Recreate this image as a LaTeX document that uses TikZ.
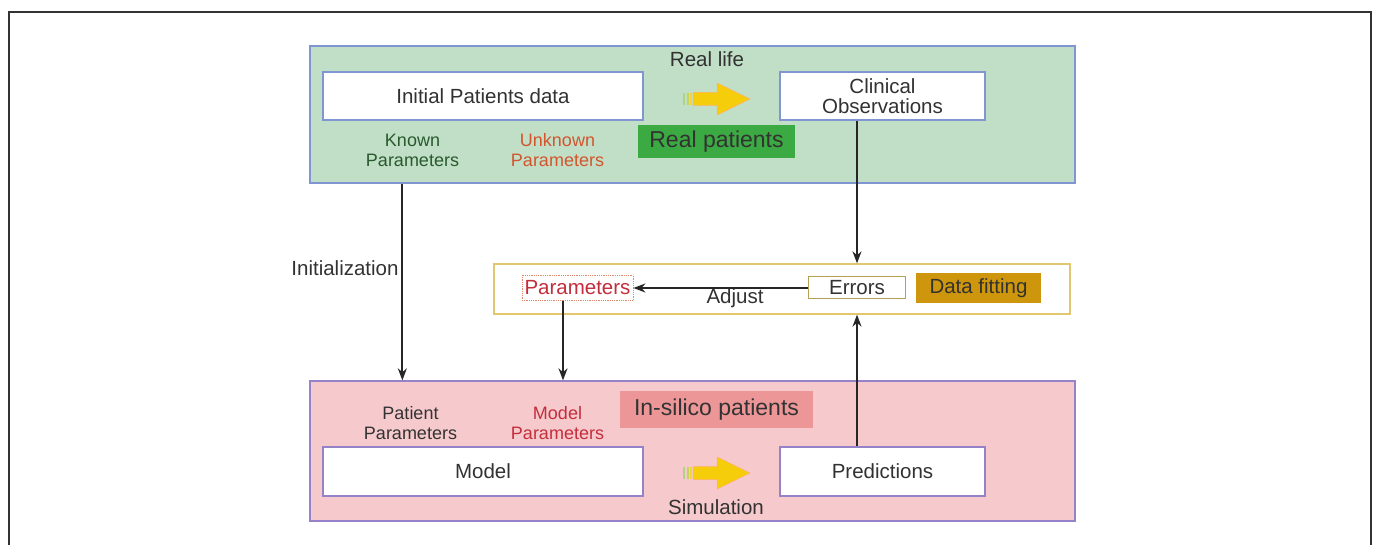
\documentclass[tikz,border=0pt]{standalone}
\usepackage{fontspec}
\setmainfont{Liberation Sans}
\usetikzlibrary{positioning,arrows.meta}

\definecolor{realfill}{RGB}{193,223,198}
\definecolor{realedge}{RGB}{128,150,210}
\definecolor{silicofill}{RGB}{246,202,204}
\definecolor{silicoedge}{RGB}{150,130,200}
\definecolor{realtag}{RGB}{60,170,66}
\definecolor{silicotag}{RGB}{236,150,152}
\definecolor{fittag}{RGB}{206,150,12}
\definecolor{fitedge}{RGB}{225,200,110}
\definecolor{txtgray}{RGB}{50,50,50}
\definecolor{knowngreen}{RGB}{40,90,45}
\definecolor{unknownred}{RGB}{210,85,45}
\definecolor{modelred}{RGB}{195,45,60}
\definecolor{arrowyellow}{RGB}{245,205,10}

\newcommand{\boxfont}{\fontsize{20.5}{23}\selectfont}
\newcommand{\smallfont}{\fontsize{18}{20}\selectfont}
\newcommand{\tagfont}{\fontsize{23}{26}\selectfont}

% yellow block arrow, tail at (#1,#2)
\newcommand{\flowarrow}[2]{%
  \begin{scope}[shift={(#1,#2)}]
    \fill[arrowyellow!35!realtag!60] (0,-6) rectangle (2,6);
    \fill[arrowyellow!60!realtag!70] (3.5,-6) rectangle (5.5,6);
    \fill[arrowyellow!85] (7,-6) rectangle (9,6);
    \draw[fill=arrowyellow, draw=orange!60, line width=0.5pt] (10,-6.5) -- (34,-6.5) -- (34,-16) -- (67,0) -- (34,16) -- (34,6.5) -- (10,6.5) -- cycle;
  \end{scope}}

\begin{document}
\begin{tikzpicture}[x=1pt,y=-1pt,
    panel/.style={draw=#1, line width=1.3pt, minimum width=765pt, inner sep=0pt},
    whitebox/.style={draw=#1, fill=white, line width=1.3pt, inner sep=0pt, font=\boxfont, text=txtgray, align=center},
    tagbox/.style={fill=#1, inner sep=0pt, font=\tagfont, text=txtgray},
    lbl/.style={font=\smallfont, align=center, inner sep=0pt},
    conn/.style={line width=1.8pt, draw=black!85, -{Stealth[length=12pt,width=9pt]}}]
\useasboundingbox (0,0) rectangle (1373,545);
\draw[line width=1.6pt, black!80] (9,545) -- (9,12) -- (1371,12) -- (1371,545);

% real patients
\node[panel=realedge, fill=realfill, minimum height=137pt] (real) at (692.5,114.5) {};
\node[whitebox=realedge, minimum width=320pt, minimum height=48pt] (initial) at (483,96) {Initial Patients data};
\node[whitebox=realedge, minimum width=205pt, minimum height=48pt] (clinical) at (882.5,96) {Clinical\\[-3pt]Observations};
\node[lbl, font=\boxfont, text=txtgray] (reallife) at (707,59) {Real life};
\flowarrow{683}{99}
\node[tagbox=realtag, minimum width=157pt, minimum height=33pt] (realtag) at (716.5,141.5) {Real patients};
\node[lbl, text=knowngreen] (known) at (412.5,150) {Known\\Parameters};
\node[lbl, text=unknownred] (unknown) at (557.5,150) {Unknown\\Parameters};

% data fitting
\node[draw=fitedge, fill=white, line width=1.3pt, minimum width=576pt, minimum height=50pt] (fitting) at (782,289) {};
\node[draw=unknownred!70, densely dotted, line width=0.8pt, fill=white, minimum width=111pt, minimum height=25pt, inner sep=0pt, font=\boxfont, text=modelred] (params) at (577.5,288) {Parameters};
\node[draw=fitedge!80!black, line width=1pt, fill=white, minimum width=97pt, minimum height=22pt, inner sep=0pt, font=\boxfont, text=txtgray] (errors) at (857,288) {Errors};
\node[tagbox=fittag, minimum width=125pt, minimum height=30pt, font=\boxfont] (fittag) at (978.5,288) {Data fitting};
\node[lbl, font=\boxfont, text=txtgray] (adjust) at (735,298) {Adjust};
\node[lbl, font=\boxfont, text=txtgray] (init) at (345,268) {Initialization};

% in-silico patients
\node[panel=silicoedge, fill=silicofill, minimum height=140pt] (silico) at (692.5,451) {};
\node[whitebox=silicoedge, minimum width=320pt, minimum height=49pt] (model) at (483,471.5) {Model};
\node[whitebox=silicoedge, minimum width=205pt, minimum height=49pt] (predictions) at (882.5,471.5) {Predictions};
\flowarrow{683}{473}
\node[lbl, font=\boxfont, text=txtgray] (simulation) at (716,507) {Simulation};
\node[tagbox=silicotag, minimum width=193pt, minimum height=37pt] (silicotag) at (716.5,409.5) {In-silico patients};
\node[lbl, text=txtgray] (patientpar) at (410.5,423) {Patient\\Parameters};
\node[lbl, text=modelred] (modelpar) at (557.5,423) {Model\\Parameters};

% connectors
\draw[conn] ([xshift=93pt]real.south west) -- ([xshift=93pt]silico.north west);
\draw[conn] (errors |- clinical.south) -- (errors |- fitting.north);
\draw[conn] (errors |- predictions.north) -- (errors |- fitting.south);
\draw[conn] (errors.west) -- (params.east);
\draw[conn] ([xshift=-14.5pt]params.south) -- ([xshift=-14.5pt]params.south |- silico.north);
\end{tikzpicture}
\end{document}
